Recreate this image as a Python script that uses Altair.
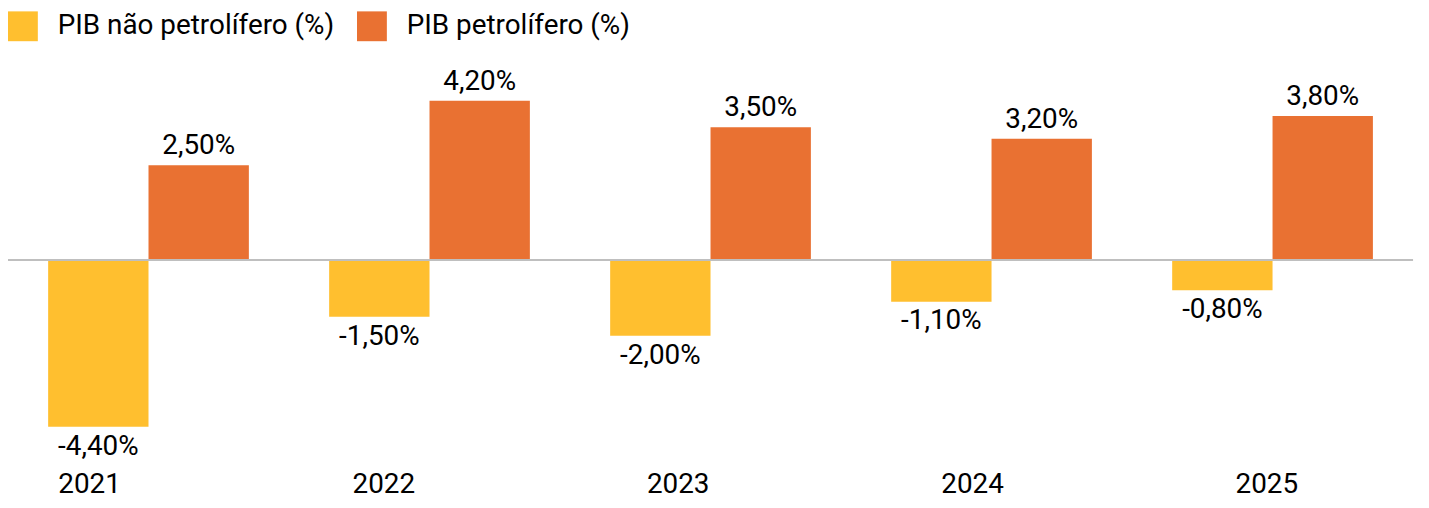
import altair as alt
import pandas as pd

years = ["2021", "2022", "2023", "2024", "2025"]
non_oil = [-4.4, -1.5, -2.0, -1.1, -0.8]
oil = [2.5, 4.2, 3.5, 3.2, 3.8]
series = ["PIB não petrolífero (%)", "PIB petrolífero (%)"]
colors = ["#FFBF2F", "#E97132"]

rows = []
for i, yr in enumerate(years):
    for s, vals in zip(series, [non_oil, oil]):
        v = vals[i]
        rows.append({"year": yr, "series": s, "value": v,
                     "label": f"{v:.2f}".replace(".", ",") + "%"})
df = pd.DataFrame(rows)

FONT = "Roboto"
FS = 28

x = alt.X("year:N", sort=years,
          scale=alt.Scale(paddingInner=0, paddingOuter=0), axis=None)
xo = alt.XOffset("series:N", sort=series,
                 scale=alt.Scale(paddingInner=0, paddingOuter=0.4))
y = alt.Y("value:Q", scale=alt.Scale(domain=[-5.3, 5.3], nice=False, zero=False),
          axis=None)
color = alt.Color("series:N", sort=series,
                  scale=alt.Scale(domain=series, range=colors),
                  legend=alt.Legend(orient="none", legendX=0, legendY=-48,
                                    direction="horizontal", columns=2, title=None,
                                    symbolType="square", symbolSize=900,
                                    symbolStrokeWidth=0, symbolOpacity=1,
                                    labelFont=FONT, labelFontSize=FS,
                                    labelColor="#000000", labelOffset=20,
                                    columnPadding=22, padding=0, labelLimit=500))

base = alt.Chart(df)

bars = base.mark_bar(opacity=1).encode(x=x, xOffset=xo, y=y, color=color)

pos_text = base.transform_filter("datum.value >= 0").mark_text(
    baseline="bottom", dy=-5, font=FONT, fontSize=FS, color="#000000"
).encode(x=x, xOffset=xo, y=y, text="label:N")

neg_text = base.transform_filter("datum.value < 0").mark_text(
    baseline="top", dy=6, font=FONT, fontSize=FS, color="#000000"
).encode(x=x, xOffset=xo, y=y, text="label:N")

zero = alt.Chart(pd.DataFrame({"z": [0]})).mark_rule(
    color="#BFBFBF", strokeWidth=2
).encode(y=alt.Y("z:Q"))

year_axis = alt.Chart(pd.DataFrame({"year": years})).mark_point(opacity=0).encode(
    x=alt.X("year:N", sort=years,
            scale=alt.Scale(type="band", range=[-66, 1414], paddingInner=0, paddingOuter=0),
            axis=alt.Axis(title=None, domain=False, ticks=False, labelAngle=0,
                          labelFont=FONT, labelFontSize=FS, labelColor="#000000",
                          labelBaseline="alphabetic", labelPadding=32))
)

chart = alt.layer(bars, pos_text, neg_text, zero, year_axis).resolve_scale(
    x="independent"
).properties(
    width=1413, height=404,
    autosize=alt.AutoSizeParams(type="none"),
    padding={"left": 0, "top": 50, "right": 8, "bottom": 38},
).configure_view(stroke=None)

chart.save("out.html", embed_options={"renderer": "svg", "actions": False})
